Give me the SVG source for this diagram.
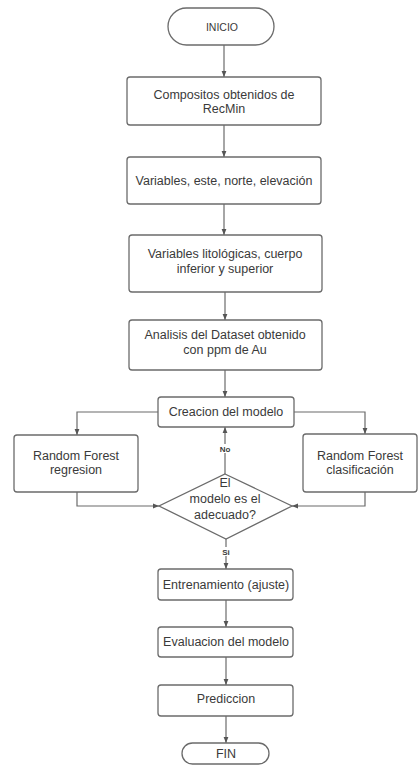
<svg xmlns="http://www.w3.org/2000/svg" width="419" height="765" viewBox="0 0 419 765">
<defs>
<style>
.n{fill:#fff;stroke:#6b6b6b;stroke-width:1.3}
.t{font-family:"Liberation Sans",Arial,sans-serif;font-size:12.5px;fill:#3a3a3a;text-anchor:middle}
.s{font-family:"Liberation Sans",Arial,sans-serif;font-size:8px;fill:#3a3a3a;text-anchor:middle;font-weight:bold}
.c{fill:none;stroke:#6b6b6b;stroke-width:1.2}
</style>
<marker id="a" viewBox="0 0 10 10" refX="10" refY="5" markerWidth="6" markerHeight="6" orient="auto" markerUnits="userSpaceOnUse">
<path d="M0,1 L10,5 L0,9 z" fill="#555"/>
</marker>
</defs>
<rect width="419" height="765" fill="#fff"/>
<g id="connectors">
<path class="c" d="M224,45 V77" marker-end="url(#a)"/>
<path class="c" d="M224,125 V157" marker-end="url(#a)"/>
<path class="c" d="M224,204 V235" marker-end="url(#a)"/>
<path class="c" d="M225,292 V320" marker-end="url(#a)"/>
<path class="c" d="M225,370 V397" marker-end="url(#a)"/>
<path class="c" d="M158,412 H77 V435" marker-end="url(#a)"/>
<path class="c" d="M294,412 H365 V434" marker-end="url(#a)"/>
<path class="c" d="M77,492 V506 H159" marker-end="url(#a)"/>
<path class="c" d="M365,492 V506 H292" marker-end="url(#a)"/>
<path class="c" d="M225,474 V427" marker-end="url(#a)"/>
<path class="c" d="M226,539 V569" marker-end="url(#a)"/>
<path class="c" d="M226,600 V627" marker-end="url(#a)"/>
<path class="c" d="M226,657 V685" marker-end="url(#a)"/>
<path class="c" d="M226,716 V743" marker-end="url(#a)"/>
<rect x="217" y="444" width="16" height="9" fill="#fff"/>
<text class="s" x="225" y="452">No</text>
<rect x="219" y="547" width="14" height="9" fill="#fff"/>
<text class="s" x="226" y="555">Si</text>
</g>
<g id="inicio">
<rect class="n" x="168" y="8" width="106" height="37" rx="18.5"/>
<text class="t" x="222" y="31" style="font-size:10.5px">INICIO</text>
</g>
<g id="compositos">
<rect class="n" x="127" y="77" width="194" height="48" rx="3"/>
<text class="t" x="224" y="99">Compositos obtenidos de</text>
<text class="t" x="224" y="113">RecMin</text>
</g>
<g id="variables">
<rect class="n" x="127" y="157" width="194" height="47" rx="3"/>
<text class="t" x="224" y="185">Variables, este, norte, elevación</text>
</g>
<g id="litologicas">
<rect class="n" x="129" y="235" width="193" height="57" rx="3"/>
<text class="t" x="225" y="258">Variables litológicas, cuerpo</text>
<text class="t" x="225" y="273">inferior y superior</text>
</g>
<g id="analisis">
<rect class="n" x="129" y="320" width="193" height="50" rx="3"/>
<text class="t" x="225" y="339">Analisis del Dataset obtenido</text>
<text class="t" x="225" y="354">con ppm de Au</text>
</g>
<g id="creacion">
<rect class="n" x="158" y="397" width="136" height="30" rx="3"/>
<text class="t" x="226" y="416">Creacion del modelo</text>
</g>
<g id="rf-regresion">
<rect class="n" x="14" y="435" width="124" height="57" rx="3"/>
<text class="t" x="76" y="460">Random Forest</text>
<text class="t" x="76" y="474">regresion</text>
</g>
<g id="rf-clasificacion">
<rect class="n" x="303" y="434" width="114" height="58" rx="3"/>
<text class="t" x="360" y="460">Random Forest</text>
<text class="t" x="360" y="474">clasificación</text>
</g>
<g id="decision">
<polygon class="n" points="225,474 292,506 226,539 159,506"/>
<text class="t" x="225" y="487">El</text>
<text class="t" x="225" y="503">modelo es el</text>
<text class="t" x="225" y="519">adecuado?</text>
</g>
<g id="entrenamiento">
<rect class="n" x="158" y="569" width="135" height="31" rx="3"/>
<text class="t" x="226" y="589">Entrenamiento (ajuste)</text>
</g>
<g id="evaluacion">
<rect class="n" x="158" y="627" width="135" height="30" rx="3"/>
<text class="t" x="226" y="646">Evaluacion del modelo</text>
</g>
<g id="prediccion">
<rect class="n" x="158" y="685" width="135" height="31" rx="3"/>
<text class="t" x="226" y="703">Prediccion</text>
</g>
<g id="fin">
<rect class="n" x="182" y="743" width="87" height="21" rx="10.5"/>
<text class="t" x="226" y="758">FIN</text>
</g>
</svg>
